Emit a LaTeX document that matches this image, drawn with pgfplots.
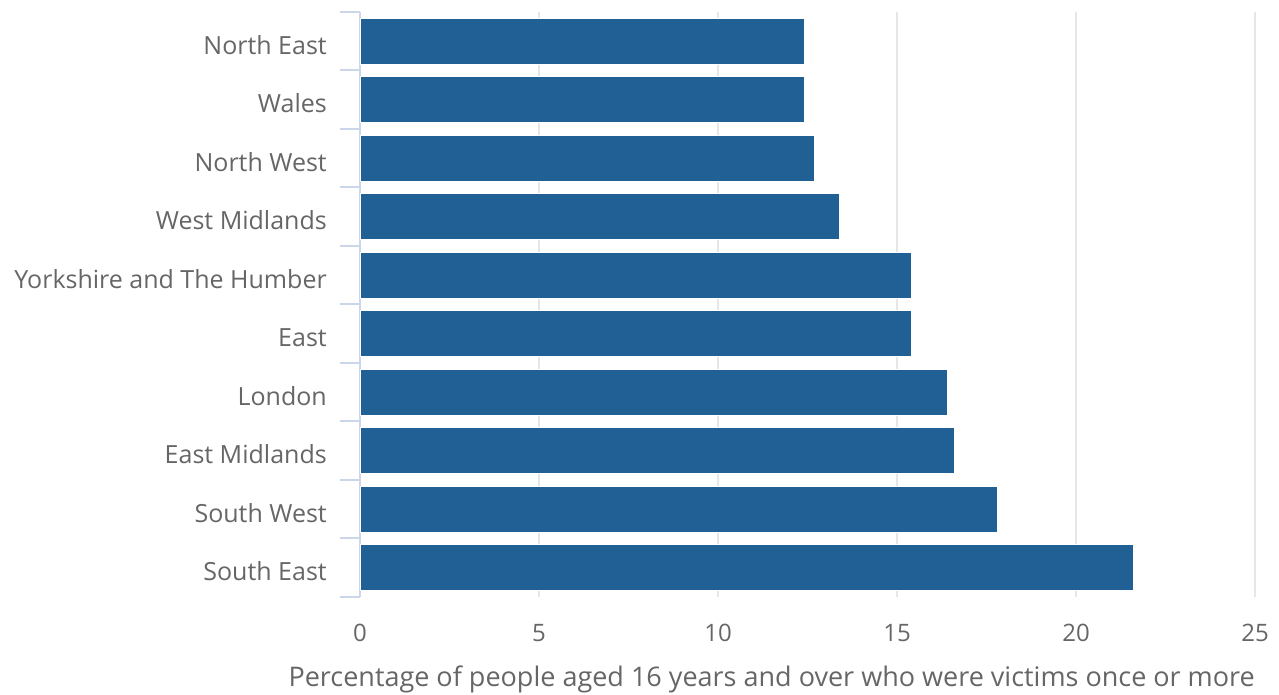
\documentclass[border=0pt]{standalone}
\usepackage{fontspec}
\setmainfont{Open Sans}
\usepackage{pgfplots}
\pgfplotsset{compat=1.18}
\definecolor{barblue}{HTML}{206095}
\definecolor{txt}{HTML}{666666}
\definecolor{axisc}{HTML}{CCD6EB}
\definecolor{gridc}{HTML}{E6E6E6}
\begin{document}
\begin{tikzpicture}
\useasboundingbox (0,0) rectangle (1279pt,695pt);
\begin{axis}[
  at={(360pt,98pt)}, anchor=south west,
  scale only axis, width=895pt, height=585pt,
  xmin=0, xmax=25, ymin=-0.5, ymax=9.5,
  xbar, bar width=46pt,
  axis y line*=left, axis x line*=bottom,
  x axis line style={draw=none},
  y axis line style={draw=axisc, line width=2pt, -},
  xtick={0,5,...,25},
  xmajorgrids, grid style={draw=gridc, line width=2pt},
  major tick length=0pt,
  ytick={0,...,9},
  yticklabels={South East,South West,East Midlands,London,East,Yorkshire and The Humber,West Midlands,North West,Wales,North East},
  minor ytick={-0.5,0.5,1.5,2.5,3.5,4.5,5.5,6.5,7.5,8.5,9.5},
  minor tick length=20pt,
  tick align=outside,
  minor y tick style={draw=axisc, line width=2pt},
  major tick style={draw=none},
  yticklabel style={font=\fontsize{25}{28}\selectfont, text=txt, anchor=base east, inner sep=0pt, xshift=-33pt, yshift=-13pt},
  xticklabel style={font=\fontsize{24}{28}\selectfont, text=txt, anchor=base, inner sep=0pt, yshift=-45pt},
  /pgf/number format/assume math mode=true,
  clip=false,
]
\addplot[fill=barblue, draw=white, line width=0.6pt] coordinates {
  (21.6,0) (17.8,1) (16.6,2) (16.4,3) (15.4,4) (15.4,5) (13.4,6) (12.7,7) (12.4,8) (12.4,9)};
\node[anchor=base east, font=\fontsize{27}{30}\selectfont, text=txt, inner sep=0pt] at (rel axis cs:1,0) [yshift=-90pt] {Percentage of people aged 16 years and over who were victims once or more};
\end{axis}
\end{tikzpicture}
\end{document}
